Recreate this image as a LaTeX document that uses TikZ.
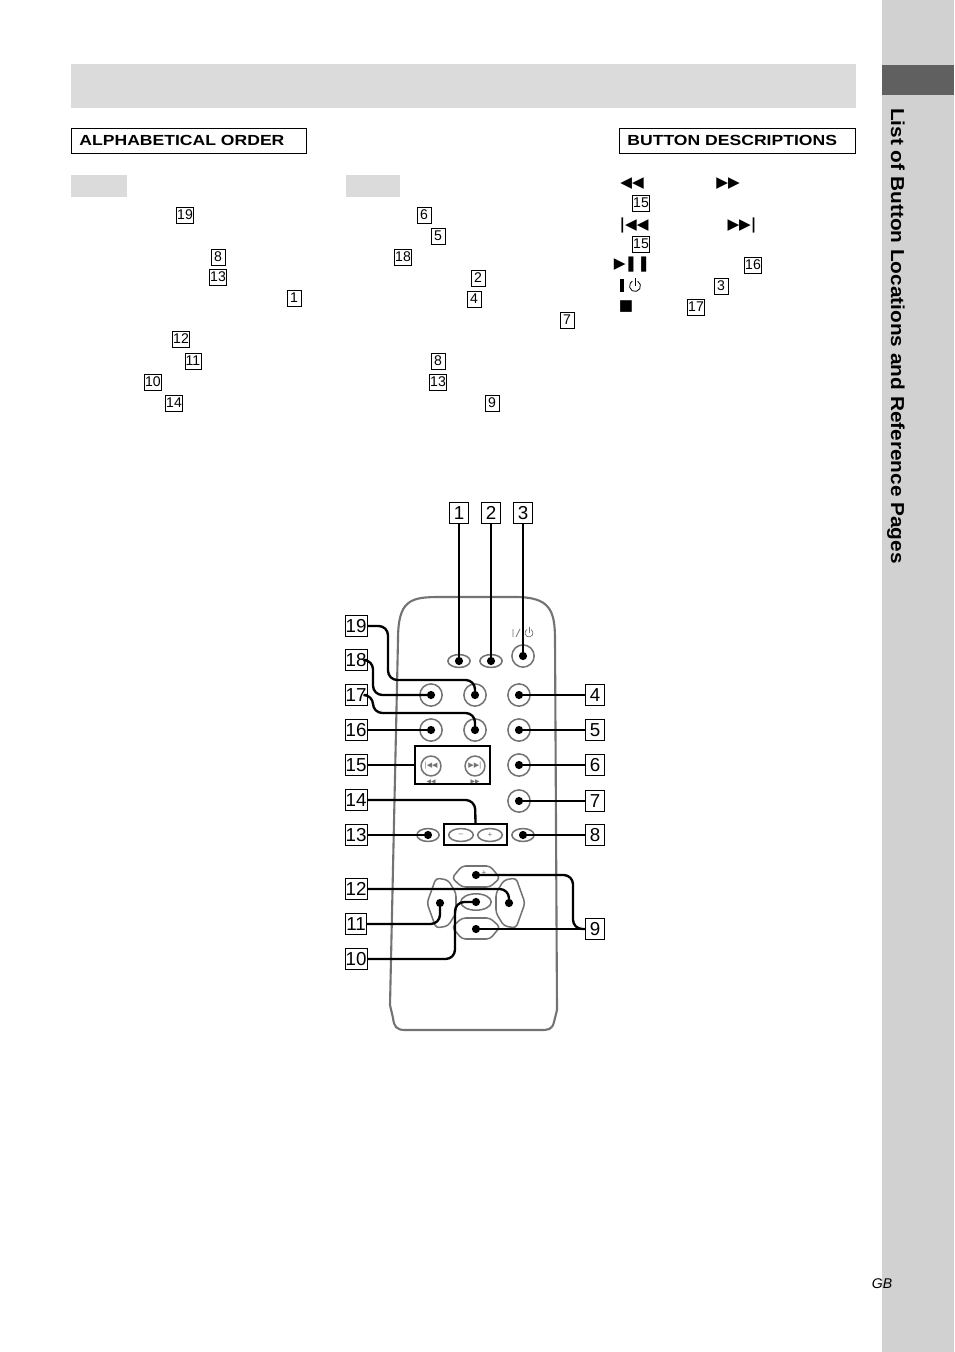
\documentclass[tikz,border=0pt]{standalone}
\usepackage{fontspec}
\setmainfont{Liberation Sans}
\newfontfamily\djv{DejaVu Sans}
\newfontfamily\wideA[FakeStretch=1.11]{Liberation Sans}
\newfontfamily\wideB[FakeStretch=1.2]{Liberation Sans}
\usetikzlibrary{calc,shapes.geometric}
\definecolor{side}{gray}{0.82}
\definecolor{bar}{gray}{0.86}
\definecolor{rem}{gray}{0.45}
\tikzset{
 bbox/.style={draw,line width=0.8pt,inner sep=0.5pt,minimum width=17pt,minimum height=18pt,font=\fontsize{16}{16}\selectfont},
 sbox/.style={draw,line width=0.5pt,inner sep=0.5pt,minimum width=12pt,minimum height=14pt,font=\fontsize{12}{12}\selectfont},
 lead/.style={line width=2pt,rounded corners=8pt},
 btn/.style={draw=rem,line width=1.3pt,circle,minimum size=19pt,inner sep=0pt},
 obtn/.style={draw=rem,line width=1.3pt,ellipse,minimum width=19pt,minimum height=11pt,inner sep=0pt},
 dotc/.style={fill=black,circle,inner sep=0pt,minimum size=7pt},
 hdr/.style={minimum height=21pt,inner xsep=7pt,text depth=0pt,font=\wideB\bfseries\fontsize{12.5}{12}\selectfont},
 sym/.style={font=\djv\fontsize{13}{13}\selectfont,inner sep=0pt}
}
\begin{document}
\begin{tikzpicture}[x=0.03cm,y=-0.03cm]
\useasboundingbox (0,0) rectangle (954,1352);
\fill[white] (0,0) rectangle (954,1352);
% sidebar
\fill[side] (882,0) rectangle (954,1352);
\fill[gray!75!black] (882,65) rectangle (954,95);
\node[rotate=-90,font=\wideA\bfseries\fontsize{16}{16}\selectfont,anchor=west,inner sep=0pt] (side) at (896,108) {List of Button Locations and Reference Pages};
% top bar
\fill[bar] (71,64) rectangle (856,108);
\draw[line width=0.6pt] (71,128) rectangle (306,153);
\node[hdr,anchor=west] (alpha) at (71,140.5) {ALPHABETICAL ORDER};
\draw[line width=0.6pt] (619,128) rectangle (855,153);
\node[hdr,anchor=west] (bdesc) at (619,140.5) {BUTTON DESCRIPTIONS};
\fill[bar] (71,175) rectangle (127,197);
\fill[bar] (346,175) rectangle (400,197);
% list column 1
\node[sbox] (a19) at (185,215) {19};
\node[sbox] (a8) at (218,257) {8};
\node[sbox] (a13) at (218,277) {13};
\node[sbox] (a1) at (294,298) {1};
\node[sbox] (a12) at (181,339) {12};
\node[sbox] (a11) at (193,361) {11};
\node[sbox] (a10) at (153,382) {10};
\node[sbox] (a14) at (174,403) {14};
% column 2
\node[sbox] (b6) at (424,215) {6};
\node[sbox] (b5) at (438,236) {5};
\node[sbox] (b18) at (403,257) {18};
\node[sbox] (b2) at (478,278) {2};
\node[sbox] (b4) at (474,299) {4};
\node[sbox] (b7) at (567,320) {7};
\node[sbox] (b8) at (438,361) {8};
\node[sbox] (b13) at (438,382) {13};
\node[sbox] (b9) at (492,403) {9};
% button descriptions
\node[sym] (s1) at (632,184) {◀◀};
\node[sym] (s2) at (728,184) {▶▶};
\node[sbox] (c15a) at (641,203) {15};
\node[sym] (s3) at (634,225) {\textbf{|}◀◀};
\node[sym] (s4) at (742,225) {▶▶\textbf{|}};
\node[sbox] (c15b) at (641,244) {15};
\node[sym] (s5) at (632,265) {▶\kern-1pt\textbf{❚❚}};
\node[sbox] (c16) at (753,265) {16};
\fill (620,279) rectangle (623.5,292);
\draw[line width=0.7pt] (635,278) -- (635,285.5);
\draw[line width=0.7pt] (637.75,281.24) arc[start angle=-60,end angle=240,radius=5.5];
\node[sbox] (c3) at (721,286) {3};
\node[sym] (s7) at (626,307) {■};
\node[sbox] (c17) at (696,307) {17};
\node[font=\itshape\fontsize{12}{12}\selectfont] (gb) at (882,1284) {GB};
% remote outline
\draw[rem,line width=1.8pt] (393,1018) -- (390,1005) -- (398,640) .. controls (398,600) and (410,597) .. (440,597) -- (515,597) .. controls (550,597) and (555,610) .. (555,640) -- (557,1010) -- (554,1022) .. controls (552,1030) and (548,1030) .. (540,1030) -- (405,1030) .. controls (396,1030) and (394,1026) .. (393,1018);
% buttons
\node[obtn] (o1) at (459,661) {};
\node[obtn] (o2) at (491,661) {};
\node[btn] (p3) at (523,656) {};
\draw[rem,line width=0.6pt] (513,629) -- (513,637) (516,637) -- (520,629);
\draw[rem,line width=0.6pt] (529,627) -- (529,633);
\draw[rem,line width=0.6pt] (531,629.5) arc[start angle=-60,end angle=240,radius=4];
\node[btn] (r1a) at (431,695) {};
\node[btn] (r1b) at (475,695) {};
\node[btn] (r1c) at (519,695) {};
\node[btn] (r2a) at (431,730) {};
\node[btn] (r2b) at (475,730) {};
\node[btn] (r2c) at (519,730) {};
\node[btn] (r3c) at (519,765) {};
\node[btn] (r4c) at (519,801) {};
\node[btn,minimum size=17pt] (r3a) at (431,766) {};
\node[btn,minimum size=17pt] (r3b) at (475,766) {};
\node[font=\djv\fontsize{6}{6}\selectfont,text=rem] at (431,766) {|◀◀};
\node[font=\djv\fontsize{6}{6}\selectfont,text=rem] at (475,766) {▶▶|};
\node[font=\djv\fontsize{5}{5}\selectfont,text=rem] (ra) at (431,782) {◀◀};
\node[font=\djv\fontsize{5}{5}\selectfont,text=rem] (rb) at (475,782) {▶▶};
\node[draw,line width=1.5pt,minimum width=75*0.03cm,minimum height=38*0.03cm] (box15) at (452.5,765) {};
\node[obtn] (o13) at (428,835) {};
\node[obtn,minimum width=21pt] (om) at (461,835) {};
\node[obtn,minimum width=21pt] (op) at (490,835) {};
\node[text=rem,font=\fontsize{7}{7}\selectfont] at (461,835) {–};
\node[text=rem,font=\fontsize{7}{7}\selectfont] at (490,835) {+};
\node[obtn] (o8) at (523,835) {};
\node[draw,line width=1.5pt,minimum width=63*0.03cm,minimum height=21*0.03cm] (box14) at (475.5,834.5) {};
% d-pad
\draw[rem,line width=1.3pt,rounded corners=3pt] (452,878) -- (462,866) -- (490,866) -- (500,878) -- (490,887) -- (462,887) -- cycle;
\draw[rem,line width=1.3pt,rounded corners=3pt] (452,927) -- (462,939) -- (490,939) -- (500,927) -- (490,918) -- (462,918) -- cycle;
\draw[rem,line width=1.3pt,rounded corners=3pt] (448,880) -- (436,878) -- (427,903) -- (436,928) -- (448,926) -- (456,913) -- (456,893) -- cycle;
\draw[rem,line width=1.3pt,rounded corners=3pt] (504,880) -- (516,878) -- (525,903) -- (516,928) -- (504,926) -- (496,913) -- (496,893) -- cycle;
\node[obtn,minimum width=26pt,minimum height=14pt] (oc) at (476,902) {};
\node[text=rem,font=\fontsize{7}{7}\selectfont] at (484,873) {+};
% big boxed numbers
\node[bbox] (n1) at (459,513) {1};
\node[bbox] (n2) at (491,513) {2};
\node[bbox] (n3) at (523,513) {3};
\node[bbox] (n19) at (356,626) {19};
\node[bbox] (n18) at (356,660) {18};
\node[bbox] (n17) at (356,695) {17};
\node[bbox] (n16) at (356,730) {16};
\node[bbox] (n15) at (356,765) {15};
\node[bbox] (n14) at (356,800) {14};
\node[bbox] (n13) at (356,835) {13};
\node[bbox] (n12) at (356,889) {12};
\node[bbox] (n11) at (356,924) {11};
\node[bbox] (n10) at (356,959) {10};
\node[bbox] (n4) at (595,695) {4};
\node[bbox] (n5) at (595,730) {5};
\node[bbox] (n6) at (595,765) {6};
\node[bbox] (n7) at (595,801) {7};
\node[bbox] (n8) at (595,835) {8};
\node[bbox] (n9) at (595,929) {9};
% dots
\foreach \n/\p in {d1/{(459,661)},d2/{(491,661)},d3/{(523,656)},d19/{(475,695)},d18/{(431,695)},d4/{(519,695)},d17/{(475,730)},d16/{(431,730)},d5/{(519,730)},d6/{(519,765)},d7/{(519,801)},d13/{(428,835)},d8/{(523,835)},d9a/{(476,875)},d9b/{(476,929)},d12/{(509,903)},d11/{(440,903)},d10/{(476,902)}}
  \node[dotc] (\n) at \p {};
% leaders
\draw[lead] (n1) -- (d1);
\draw[lead] (n2) -- (d2);
\draw[lead] (n3) -- (d3);
\draw[lead] (n19.east) -- (388,626) -- (388,680) -- (475,680) -- (d19.center);
\draw[lead] (n18.east) -- (373,660) -- (373,695) -- (d18.center);
\draw[lead] (n17.east) -- (373,695) -- (373,713) -- (475,713) -- (d17.center);
\draw[lead] (n16.east) -- (d16.center);
\draw[lead] (n15.east) -- (box15.west);
\draw[lead] (n14.east) -- (475,800) -- (box14.north);
\draw[lead] (n13.east) -- (d13.center);
\draw[lead] (n4.west) -- (d4.center);
\draw[lead] (n5.west) -- (d5.center);
\draw[lead] (n6.west) -- (d6.center);
\draw[lead] (n7.west) -- (d7.center);
\draw[lead] (n8.west) -- (d8.center);
\draw[lead] (n12.east) -- (509,889) -- (d12.center);
\draw[lead] (n11.east) -- (440,924) -- (d11.center);
\draw[lead] (n10.east) -- (455,959) -- (455,902) -- (d10.center);
\draw[lead] (d9a.center) -- (573,875) -- (573,929) -- (n9.west);
\draw[lead] (d9b.center) -- (n9.west);
\end{tikzpicture}
\end{document}
